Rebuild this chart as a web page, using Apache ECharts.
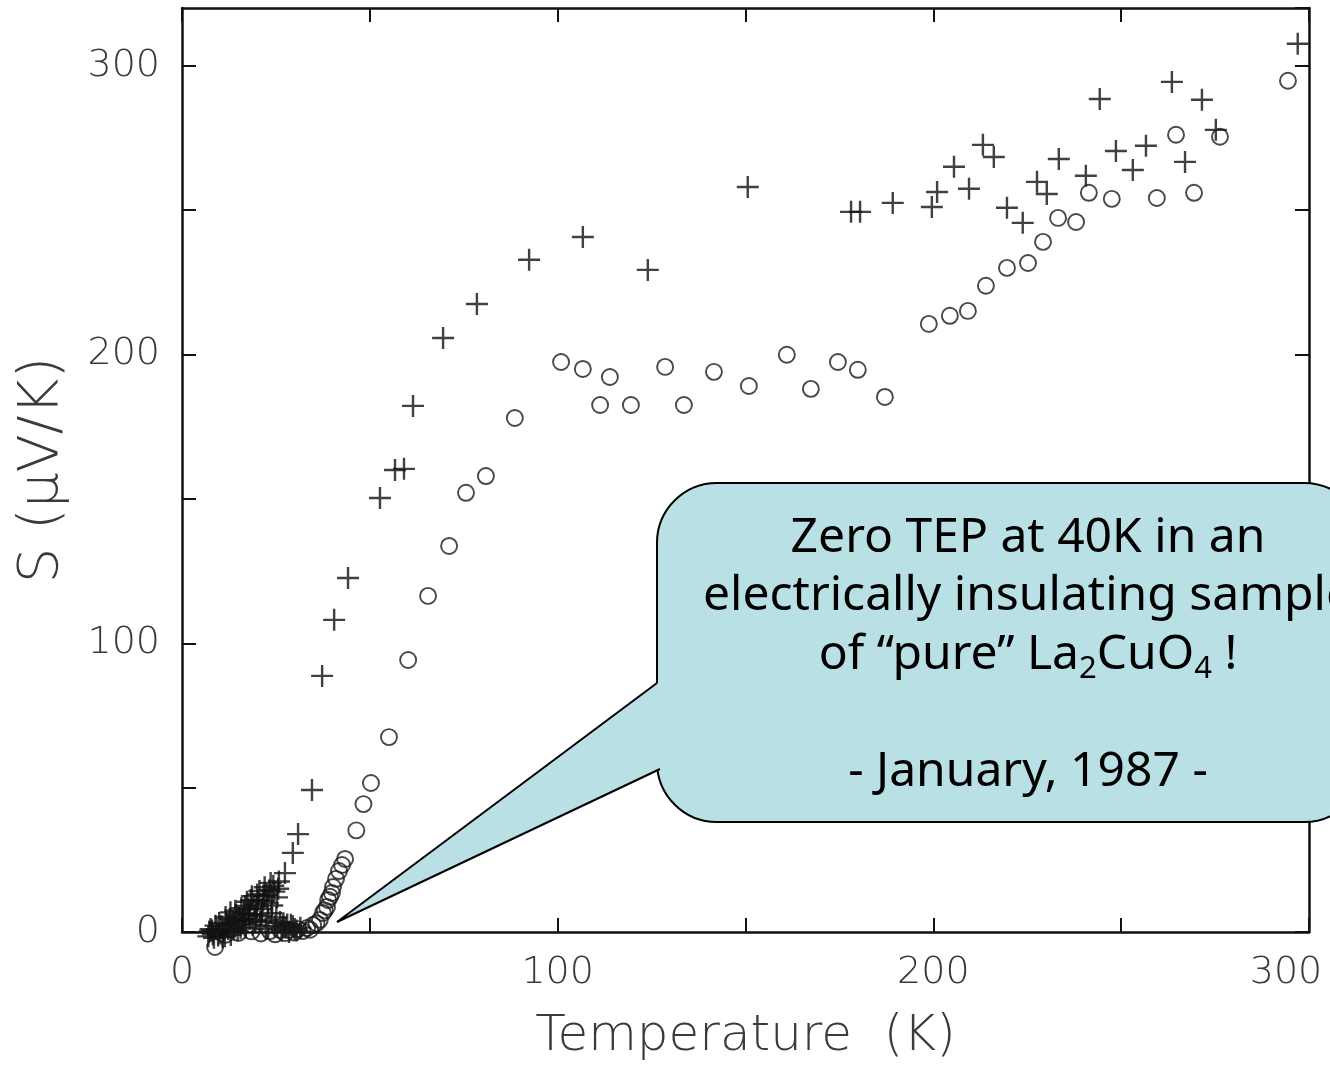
<!DOCTYPE html>
<html>
<head>
<meta charset="utf-8">
<script src="https://cdn.jsdelivr.net/npm/echarts@6/dist/echarts.min.js"></script>
<style>
html,body{margin:0;padding:0;background:#fff;}
#chart{width:1330px;height:1065px;}
</style>
</head>
<body>
<div id="chart"></div>
<script>
// ---- data (Temperature K, S µV/K) ----
var crossPoints = [
  [7.0,-1.5],[7.6,1.0],[8.0,0.5],[8.5,-2.0],[9.2,1.0],[9.6,-1.2],[10.0,-0.5],[10.5,2.0],[11.0,0.0],
  [11.4,-1.5],[11.8,3.0],[12.3,1.0],[12.7,4.5],[13.0,-1.0],[13.5,4.0],[14.0,2.0],[14.4,6.0],
  [14.8,0.5],[15.2,5.0],[15.6,1.5],[16.0,3.0],[16.5,6.5],[16.8,9.0],[17.0,1.5],[17.6,8.0],
  [18.0,4.5],[18.4,11.0],[18.8,2.5],[19.2,9.5],[19.8,6.0],[20.0,13.0],[20.3,11.0],[20.8,3.5],
  [21.3,8.0],[21.8,12.5],[22.0,15.5],[22.3,1.0],[22.8,10.0],[23.3,14.5],[23.8,6.5],[24.3,16.0],
  [24.8,2.0],[25.3,12.0],[25.8,17.5],[26.5,0.5],[27.0,3.0],[27.5,1.5],[28.5,0.0],[29.0,2.5],
  [29.5,2.0],[30.5,0.5],[31.5,1.5],
  [7.3,0.2],[8.2,-0.8],[8.9,2.2],[9.9,3.1],[10.8,-1.8],[11.6,5.2],[12.1,2.6],[12.9,6.8],
  [13.7,0.8],[14.2,7.4],[15.0,3.8],[15.8,8.2],[16.3,4.4],[17.3,10.5],[17.9,6.2],[18.6,12.4],
  [19.5,3.8],[19.9,8.8],[20.6,14.2],[21.1,5.4],[21.6,10.8],[22.5,12.9],[23.0,4.2],[23.6,17.0],
  [24.0,9.2],[24.6,14.0],[25.1,5.0],[25.6,15.0],[26.1,3.5],[26.8,1.8],[28.0,2.6],[30.0,1.0],
  [27.4,20.4],[29.5,27.4],[30.9,33.9],[34.6,49.2],
  [37.3,88.7],[40.5,108.1],[44.2,122.6],[52.7,150.3],[56.7,160.0],[59.1,160.4],[61.5,182.2],
  [69.5,205.7],[78.5,217.5],[92.4,232.8],[106.7,240.7],[124.0,229.3],[150.6,258.0],
  [178.1,249.4],[180.5,249.4],[189.2,252.5],[199.6,251.1],[201.0,256.3],[205.5,265.0],
  [209.5,257.4],[213.2,272.6],[216.1,268.4],[219.6,250.8],[223.8,245.6],[227.6,259.8],
  [230.2,255.6],[233.4,267.7],[240.6,261.9],[244.3,288.5],[248.6,270.5],[253.1,263.9],
  [256.6,272.3],[263.5,294.4],[267.0,266.7],[271.5,288.2],[275.2,277.8],[297.0,307.6]
];
var circlePoints = [
  [8.8,-5.2],[11.5,-1.0],[15.0,-0.3],[18.5,0.2],[21.0,-0.5],[23.4,0.3],[24.8,-0.8],[26.1,0.7],
  [27.4,-0.4],[28.7,0.7],[29.8,-0.2],[30.9,1.0],[32.1,0.3],[33.3,1.4],[34.1,0.8],[34.9,2.4],
  [35.8,3.0],[36.7,4.2],[37.5,6.6],[38.0,7.5],[38.6,8.7],[38.9,11.1],[39.4,12.2],[39.9,13.5],
  [40.2,15.6],[41.0,18.4],[41.8,21.1],[42.6,23.2],[43.4,25.3],[46.4,35.2],[48.3,44.3],[50.3,51.6],
  [55.1,67.5],[60.2,94.2],[65.5,116.4],[71.1,133.7],[75.6,152.1],[80.9,157.9],[88.6,178.0],
  [100.9,197.4],[106.7,195.0],[111.3,182.5],[113.9,192.2],[119.5,182.5],[128.6,195.7],
  [133.6,182.5],[141.6,194.0],[150.9,189.1],[161.0,199.9],[167.4,188.1],[174.6,197.4],
  [179.9,194.7],[187.1,185.3],[198.8,210.6],[204.4,213.4],[209.2,215.1],[214.0,223.8],
  [219.6,230.0],[225.2,231.7],[229.2,239.0],[233.2,247.3],[238.0,245.9],[241.4,256.0],
  [247.5,253.9],[259.5,254.2],[264.6,276.1],[269.4,256.0],[276.3,275.4],[294.4,294.8]
];
var xTickLabels = [0, 100, 200, 300];
var yTickLabels = [0, 100, 200, 300];
var xTitle = 'Temperature  (K)';
var yTitle = 'S (\u03bcV/K)';
var calloutLines = [
  'Zero TEP at 40K in an',
  'electrically insulating sample',
  'of \u201cpure\u201d La{sub|2}CuO{sub|4} !',
  '',
  '- January, 1987 -'
];

var chart = echarts.init(document.getElementById('chart'), null, {renderer: 'canvas'});
var axisFont = {fontFamily: 'DejaVu Sans', fontWeight: 200, fontSize: 38, color: '#3a3a3a'};
var lineStyle = {color: '#111', width: 2.5};
function baseAxis(extra) {
  return Object.assign({
    type: 'value',
    interval: 50,
    axisLine: {show: true, onZero: false, lineStyle: lineStyle},
    axisTick: {show: true, inside: true, length: 14, lineStyle: {color: '#111', width: 2}},
    splitLine: {show: false}
  }, extra);
}
var crossSymbol = 'path://M10,0L10,20M0,10L20,10';

chart.setOption({
  animation: false,
  backgroundColor: '#fff',
  grid: {left: 182, right: 21, top: 8, bottom: 133, containLabel: false, outerBoundsMode: 'none'},
  xAxis: [
    baseAxis({
      min: 0, max: 300, position: 'bottom',
      name: xTitle, nameLocation: 'middle', nameGap: 80,
      nameTextStyle: {fontFamily: 'DejaVu Sans', fontWeight: 200, fontSize: 50, color: '#3a3a3a'},
      axisLabel: Object.assign({margin: 22, formatter: function (v) {
        if (v === 300) return '{r|300}';
        return xTickLabels.indexOf(v) >= 0 ? String(v) : '';
      }, rich: {r: Object.assign({padding: [0, 46, 0, 0]}, axisFont)}}, axisFont)
    }),
    baseAxis({min: 0, max: 300, position: 'top', axisLabel: {show: false}})
  ],
  yAxis: [
    baseAxis({
      min: 0, max: 320, position: 'left',
      name: yTitle, nameLocation: 'middle', nameGap: 112,
      nameTextStyle: {fontFamily: 'DejaVu Sans', fontWeight: 200, fontSize: 56, color: '#3a3a3a'},
      axisLabel: Object.assign({margin: 22, showMaxLabel: false, formatter: function (v) {
        return yTickLabels.indexOf(v) >= 0 ? String(v) : '';
      }}, axisFont)
    }),
    baseAxis({min: 0, max: 320, position: 'right', axisLabel: {show: false}})
  ],
  series: [
    {
      name: 'crosses', type: 'scatter', data: crossPoints, clip: false,
      symbol: crossSymbol, symbolSize: 22,
      itemStyle: {color: 'rgba(0,0,0,0)', borderColor: '#111', borderWidth: 2.4}
    },
    {
      name: 'circles', type: 'scatter', data: circlePoints, clip: false,
      symbol: 'circle', symbolSize: 16,
      itemStyle: {color: 'rgba(0,0,0,0)', borderColor: '#1a1a1a', borderWidth: 1.9}
    }
  ],
  graphic: [
    {type: 'rect', z: 100, shape: {x: 657, y: 483, width: 707, height: 339, r: 60},
     style: {fill: '#b9e0e4', stroke: '#000', lineWidth: 2}},
    {type: 'polygon', z: 101, shape: {points: [[337,922],[657,683],[672,683],[672,770],[660,770]]},
     style: {fill: '#b9e0e4', stroke: null}},
    {type: 'polyline', z: 102, shape: {points: [[657,683],[337,922],[660,769]]},
     style: {fill: null, stroke: '#000', lineWidth: 2}},
    {type: 'text', z: 103,
     style: {
       text: calloutLines.join('\n'),
       x: 1028, y: 655, align: 'center', verticalAlign: 'middle',
       fontFamily: 'Noto Sans', fontSize: 48, lineHeight: 58.5, fill: '#000',
       rich: {sub: {fontFamily: 'Noto Sans', fontSize: 31, lineHeight: 30, verticalAlign: 'bottom', fill: '#000'}}
     }}
  ]
});
</script>
</body>
</html>
